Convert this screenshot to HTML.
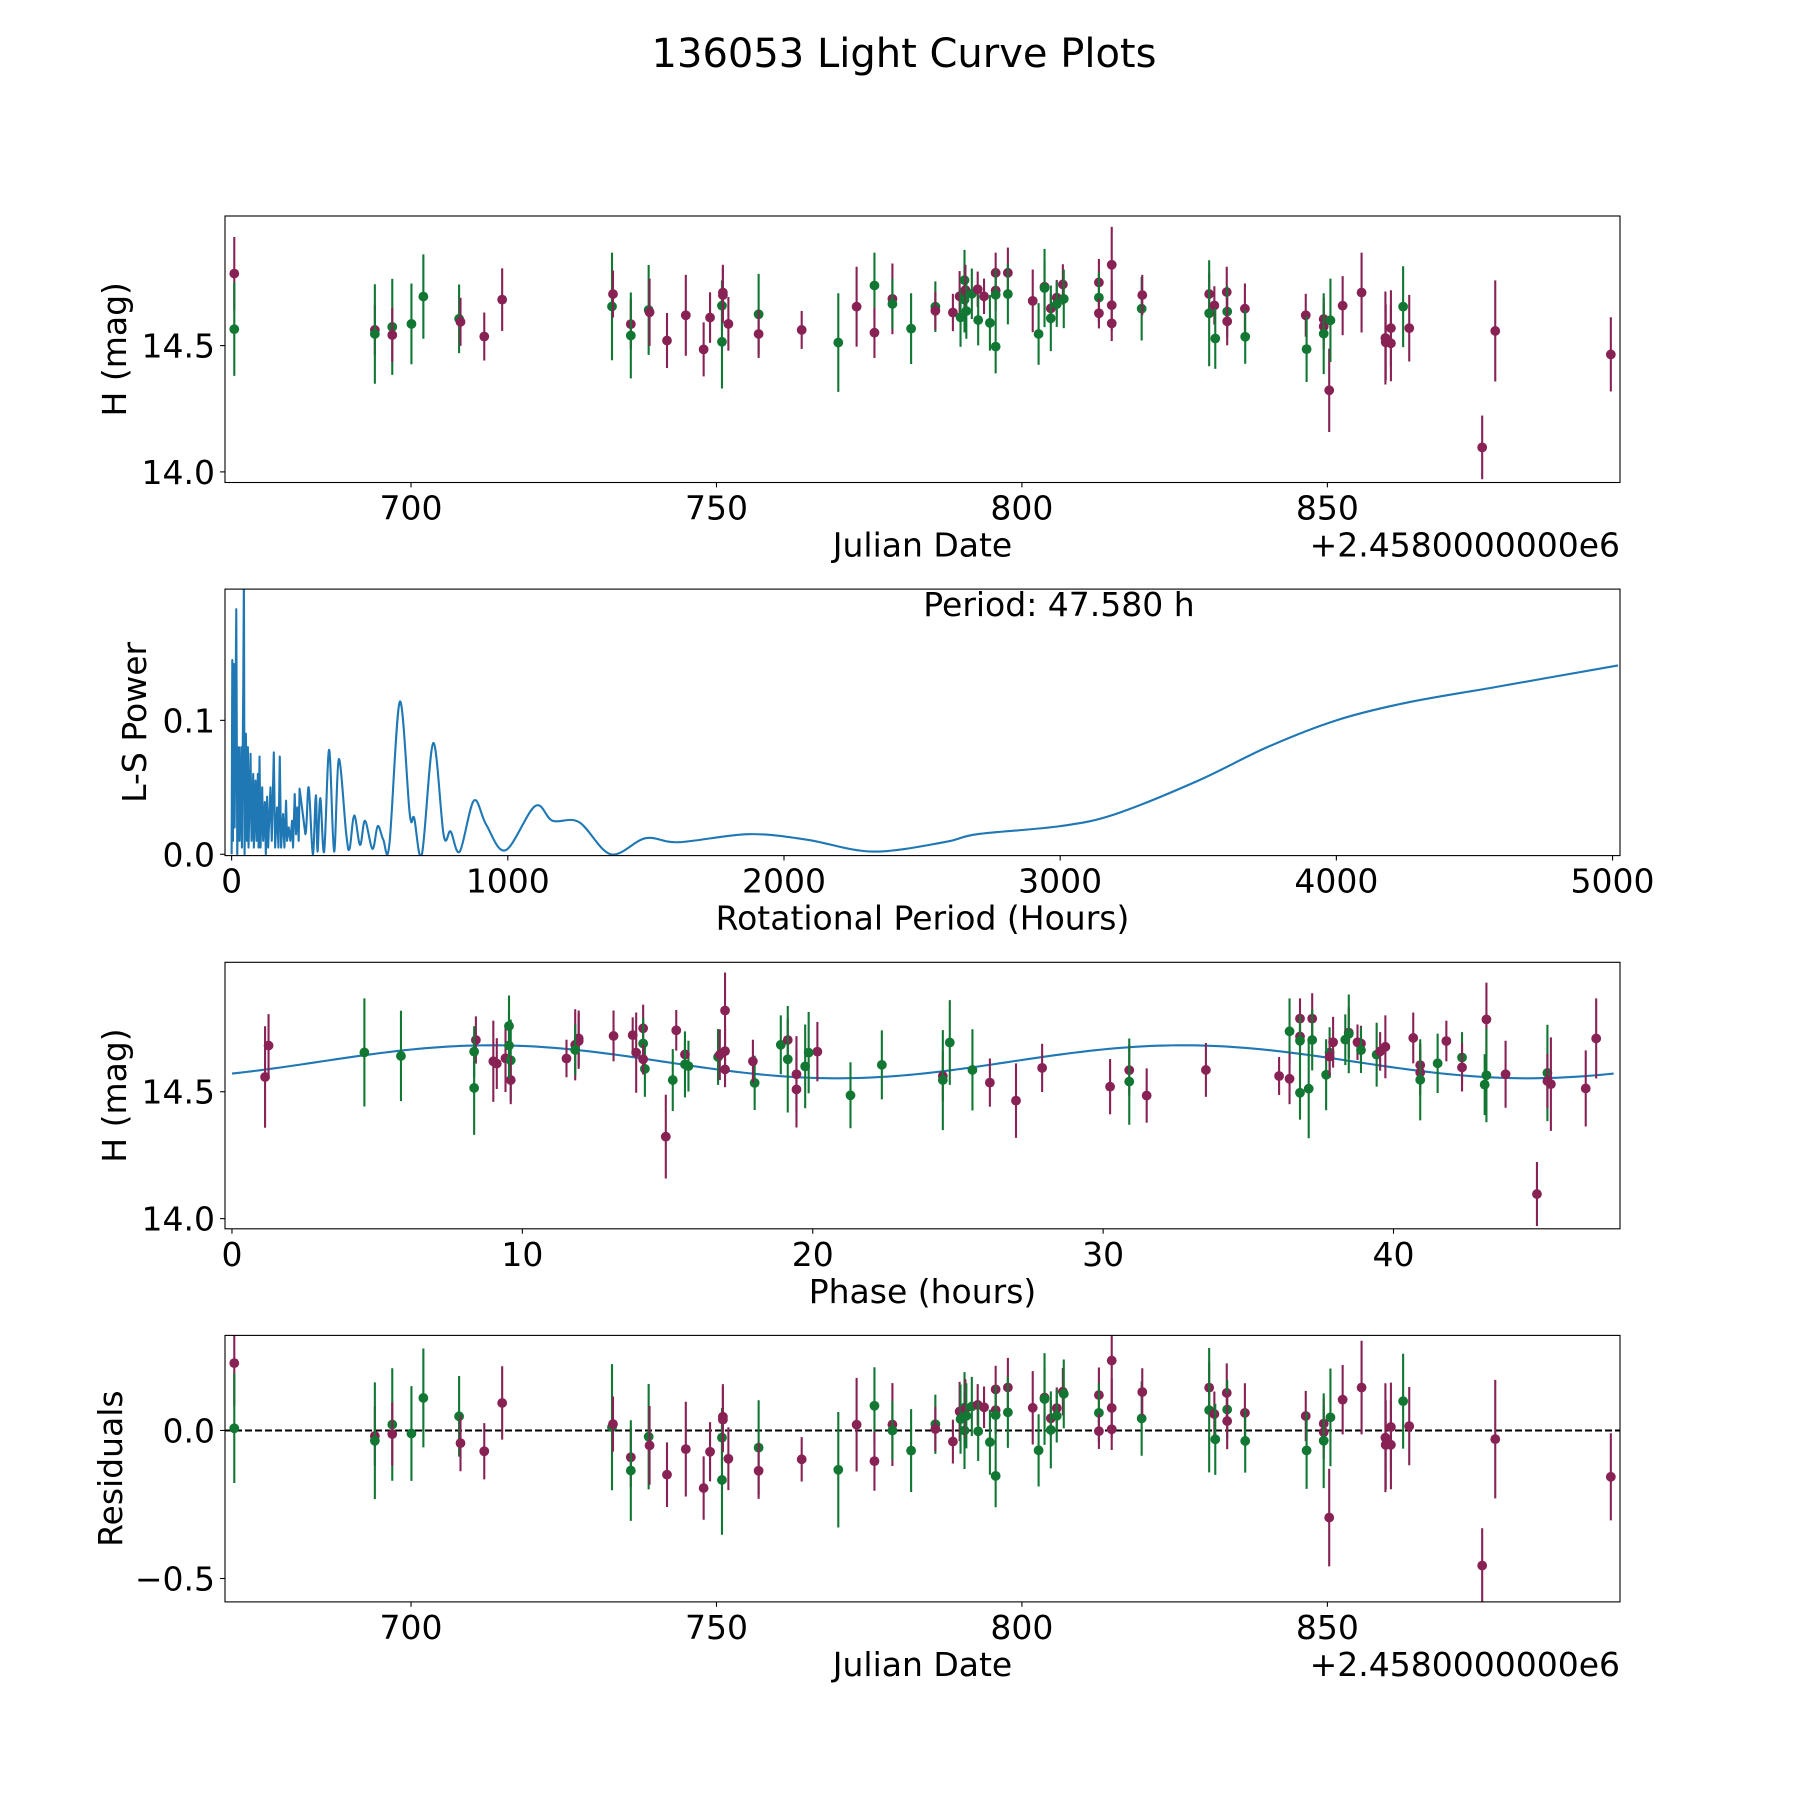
<!DOCTYPE html>
<html><head><meta charset="utf-8"><title>136053 Light Curve Plots</title>
<style>html,body{margin:0;padding:0;background:#fff}svg{display:block}text{font-family:"DejaVu Sans","Liberation Sans",sans-serif;fill:#000}</style>
</head><body>
<svg id="fig" xmlns="http://www.w3.org/2000/svg" width="1800" height="1800" viewBox="0 0 1800 1800">
<rect width="1800" height="1800" fill="#fff"/>
<text x="904" y="67" font-size="40" text-anchor="middle">136053 Light Curve Plots</text>
</svg>
<script>
// ---- observation data (JD offset from 2458000, H mag, error, band 0=green 1=magenta)
const jd = [671.07,671.07,694.08,694.08,696.93,696.93,700.07,702.02,707.87,708.10,711.99,714.92,732.90,733.06,735.98,735.98,738.90,739.05,741.90,744.98,747.90,748.95,750.90,750.90,751.05,751.05,751.95,756.90,756.90,763.95,769.94,772.94,775.86,775.86,778.80,778.80,781.86,785.83,785.83,788.70,789.80,789.95,790.60,790.60,790.75,790.90,791.80,792.76,792.84,793.80,794.76,795.70,795.70,795.70,795.70,797.70,797.70,801.77,802.73,803.70,803.70,804.73,804.73,805.70,805.70,806.70,806.85,812.60,812.60,812.60,814.70,814.70,814.70,819.60,819.70,830.65,830.65,831.50,831.65,833.53,833.60,833.60,836.50,836.55,846.46,846.60,849.40,849.40,849.40,850.30,850.50,852.50,855.60,859.50,859.55,860.40,860.40,862.40,863.40,875.34,877.48,896.40];
const mag = [14.785,14.565,14.562,14.546,14.574,14.542,14.586,14.694,14.606,14.594,14.536,14.682,14.655,14.704,14.585,14.540,14.641,14.632,14.520,14.620,14.485,14.611,14.515,14.658,14.710,14.700,14.586,14.624,14.546,14.562,14.512,14.654,14.738,14.551,14.685,14.665,14.567,14.654,14.638,14.631,14.695,14.612,14.759,14.682,14.720,14.637,14.705,14.723,14.601,14.695,14.590,14.788,14.718,14.701,14.496,14.788,14.704,14.677,14.546,14.733,14.728,14.647,14.608,14.690,14.664,14.742,14.685,14.750,14.690,14.628,14.820,14.660,14.588,14.646,14.700,14.704,14.628,14.659,14.528,14.712,14.635,14.596,14.646,14.535,14.620,14.486,14.605,14.576,14.547,14.323,14.600,14.658,14.710,14.530,14.513,14.569,14.509,14.654,14.569,14.097,14.558,14.465];
const err = [0.145,0.185,0.10,0.197,0.19,0.107,0.16,0.167,0.136,0.095,0.095,0.124,0.213,0.093,0.10,0.17,0.178,0.133,0.109,0.16,0.107,0.10,0.185,0.10,0.11,0.11,0.106,0.16,0.095,0.075,0.195,0.158,0.13,0.10,0.14,0.10,0.14,0.10,0.075,0.074,0.10,0.117,0.12,0.13,0.10,0.11,0.10,0.07,0.10,0.07,0.11,0.08,0.08,0.10,0.106,0.10,0.12,0.124,0.122,0.10,0.155,0.06,0.13,0.07,0.09,0.08,0.116,0.093,0.10,0.06,0.15,0.10,0.07,0.126,0.08,0.085,0.21,0.076,0.12,0.10,0.10,0.095,0.10,0.107,0.085,0.13,0.085,0.09,0.16,0.165,0.165,0.117,0.158,0.184,0.15,0.15,0.15,0.16,0.132,0.126,0.20,0.147];
const band = [1,0,1,0,0,1,0,0,0,1,1,1,0,1,1,0,0,1,1,1,1,1,0,0,1,1,1,0,1,1,0,1,0,1,1,0,0,0,1,1,1,0,0,0,1,0,0,1,0,1,0,1,1,0,0,1,0,1,0,1,0,1,0,1,0,1,0,1,0,1,1,1,1,0,1,1,0,1,0,1,0,1,1,0,1,0,1,1,0,1,0,1,1,1,1,1,1,0,1,1,1,1];
// ---- periodogram
const periods = [0,2.4,4.8,8.4,10.8,16.8,20.4,26.4,28.8,34.9,37.3,42.1,44.5,46.9,51.7,55.3,58.9,61.3,68.5,72.1,78.1,80.5,86.5,90.2,95.0,97.4,101,104.6,110.6,114.2,120.2,123.8,128.6,132.2,140.6,145.4,152.7,157.5,164.7,169.5,174.3,179.1,186.3,191.1,197.1,200.7,206.7,212.8,218.8,222.4,228.4,233.2,238,242.8,246,267,279,294,305,311,321,335,353,371,388,415,427,444,465,483,510,529,549,571,609,645,661,689,730,768,793,826,877,922,992,1099,1162,1258,1373,1499,1619,1870,2080,2320,2580,2700,3000,3200,3500,3750,4000,4250,4580,5020];
const power = [0,0.145,0.01,0.142,0.02,0.183,0.0,0.08,0.01,0.08,0.005,0.125,0.21,0.0,0.09,0.01,0.08,0.005,0.075,0.01,0.06,0.005,0.055,0.01,0.06,0.005,0.073,0.005,0.05,0.01,0.039,0.0,0.043,0.005,0.05,0.01,0.076,0.005,0.035,0.005,0.073,0.005,0.03,0.005,0.04,0.01,0.02,0.01,0.025,0.005,0.045,0.015,0.035,0.01,0.049,0.015,0.05,0,0.044,0.002,0.042,0.002,0.078,0.002,0.071,0.015,0.004,0.029,0.007,0.025,0.004,0.021,0.011,0.007,0.114,0.030,0.027,0,0.083,0.014,0.017,0.002,0.040,0.022,0.003,0.036,0.025,0.024,0,0.012,0.009,0.015,0.011,0.002,0.009,0.015,0.021,0.03,0.055,0.08,0.1,0.113,0.125,0.141];
const bestPeriod = 47.58;
const xTicksJD = [700,750,800,850];
const xTicksPer = [0,1000,2000,3000,4000,5000];
const xTicksPhase = [0,10,20,30,40];
const yTicksMag = [14.0,14.5];
const yTicksPow = [0.0,0.1];
const yTicksRes = [0.0,-0.5];
const T0 = 669.27, MEAN = 14.618, AMP = 0.065, PH0 = 3;

const NS = "http://www.w3.org/2000/svg";
const svg = document.getElementById('fig');
const COLORS = ["#117733","#882255"];
function mk(tag, attrs, parent){const e=document.createElementNS(NS,tag);for(const k in attrs)e.setAttribute(k,attrs[k]);(parent||svg).appendChild(e);return e;}
function lin(d0,d1,r0,r1){return v=>r0+(v-d0)/(d1-d0)*(r1-r0);}
const X0=225,X1=1620,H=266.5;
function fmt(v,dec){let s=v.toFixed(dec);return s.replace('-','\u2212');}

function axes(top,name,xdom,ydom,xt,yt,xdec,ydec,xlabel,ylabel,ylabelX,offsetText){
  const g=mk('g',{});
  
  
  const sx=lin(xdom[0],xdom[1],X0,X1), sy=lin(ydom[0],ydom[1],top+H,top);
  const cid='clip-'+name;
  const cp=mk('clipPath',{id:cid},g);mk('rect',{x:X0,y:top,width:X1-X0,height:H},cp);
  const plot=mk('g',{'clip-path':'url(#'+cid+')'},g);
  const fr=mk('g',{},g);
  mk('rect',{x:X0,y:top,width:X1-X0,height:H,fill:'none',stroke:'#000','stroke-width':1.1},fr);
  xt.forEach(v=>{const x=sx(v);
    mk('line',{x1:x,x2:x,y1:top+H,y2:top+H+4.9,stroke:'#000','stroke-width':1.1},fr);
    const t=mk('text',{x:x,y:top+H+37,'font-size':33,'text-anchor':'middle'},fr);t.textContent=fmt(v,xdec);
    
    });
  yt.forEach(v=>{const y=sy(v);
    mk('line',{x1:X0-4.9,x2:X0,y1:y,y2:y,stroke:'#000','stroke-width':1.1},fr);
    const t=mk('text',{x:X0-10,y:y+12,'font-size':33,'text-anchor':'end'},fr);t.textContent=fmt(v,ydec);
    
    });
  const xl=mk('text',{x:(X0+X1)/2,y:top+H+74,'font-size':33,'text-anchor':'middle'},fr);xl.textContent=xlabel;
  
  
  if(offsetText){const o=mk('text',{x:X1,y:top+H+74,'font-size':33,'text-anchor':'end'},fr);o.textContent=offsetText;
    
    }
  const yl=mk('text',{x:ylabelX,y:top+H/2,'font-size':33,'text-anchor':'middle',transform:'rotate(-90 '+ylabelX+' '+(top+H/2)+')'},fr);yl.textContent=ylabel;
  
  
  return {sx,sy,plot};
}
function phaseOf(t){let p=((t-T0)*24)%bestPeriod;if(p<0)p+=bestPeriod;return p;}
function model(p){return MEAN+AMP*Math.sin(2*Math.PI*(p-PH0)/(bestPeriod/2));}
function errpoints(ax,xs,ys,es,prefix){
  for(let i=0;i<xs.length;i++){
    const c=COLORS[band[i]],x=ax.sx(xs[i]);
    const l=mk('line',{x1:x,x2:x,y1:ax.sy(ys[i]-es[i]),y2:ax.sy(ys[i]+es[i]),stroke:c,'stroke-width':2.1},ax.plot);
    
    
    const d=mk('circle',{cx:x,cy:ax.sy(ys[i]),r:4.9,fill:c},ax.plot);
    
    
  }
}
// Panel 1: light curve
const a1=axes(216,'light-curve-panel',[669.55,897.9],[13.958,15.013],xTicksJD,yTicksMag,0,1,'Julian Date','H (mag)',126,'+2.4580000000e6');
errpoints(a1,jd,mag,err,'observation');
// Panel 2: periodogram
const a2=axes(589.1,'periodogram-panel',[-24,5027],[-0.001,0.198],xTicksPer,yTicksPow,0,1,'Rotational Period (Hours)','L-S Power',146,null);
(function(){
  const pts=periods.map((p,i)=>[a2.sx(p),a2.sy(power[i])]);
  let d='M'+pts[0][0]+','+pts[0][1];
  for(let i=0;i<pts.length-1;i++){
    const p0=pts[Math.max(0,i-1)],p1=pts[i],p2=pts[i+1],p3=pts[Math.min(pts.length-1,i+2)];
    if(periods[i]<250){d+='L'+p2[0]+','+p2[1];continue;}
    const c1=[p1[0]+(p2[0]-p0[0])/6,p1[1]+(p2[1]-p0[1])/6],c2=[p2[0]-(p3[0]-p1[0])/6,p2[1]-(p3[1]-p1[1])/6];
    d+='C'+c1[0]+','+c1[1]+' '+c2[0]+','+c2[1]+' '+p2[0]+','+p2[1];
  }
  const pl=mk('path',{d:d,fill:'none',stroke:'#1f77b4','stroke-width':2.1,'stroke-linejoin':'round'},a2.plot);
  
  
  const t=mk('text',{x:1059,y:616,'font-size':33,'text-anchor':'middle'});t.textContent='Period: '+bestPeriod.toFixed(3)+' h';
  
  
})();
// Panel 3: phased
const a3=axes(962.3,'phase-panel',[-0.24,47.8],[13.96,15.01],xTicksPhase,yTicksMag,0,1,'Phase (hours)','H (mag)',126,null);
const phases=jd.map(phaseOf);
(function(){let d='';for(let k=0;k<=200;k++){const p=bestPeriod*k/200;d+=(k?'L':'M')+a3.sx(p)+','+a3.sy(model(p));}
  const m=mk('path',{d:d,fill:'none',stroke:'#1f77b4','stroke-width':2.1},a3.plot);
  
  })();
errpoints(a3,phases,mag,err,'phased');
// Panel 4: residuals
const a4=axes(1335.4,'residuals-panel',[669.55,897.9],[-0.579,0.321],xTicksJD,yTicksRes,0,1,'Julian Date','Residuals',122,'+2.4580000000e6');
const zl=mk('line',{x1:X0,x2:X1,y1:a4.sy(0),y2:a4.sy(0),stroke:'#000','stroke-width':2,'stroke-dasharray':'7,3'},a4.plot);


const resid=mag.map((m,i)=>m-model(phases[i]));
errpoints(a4,jd,resid,err,'residual');
</script>
</body></html>
